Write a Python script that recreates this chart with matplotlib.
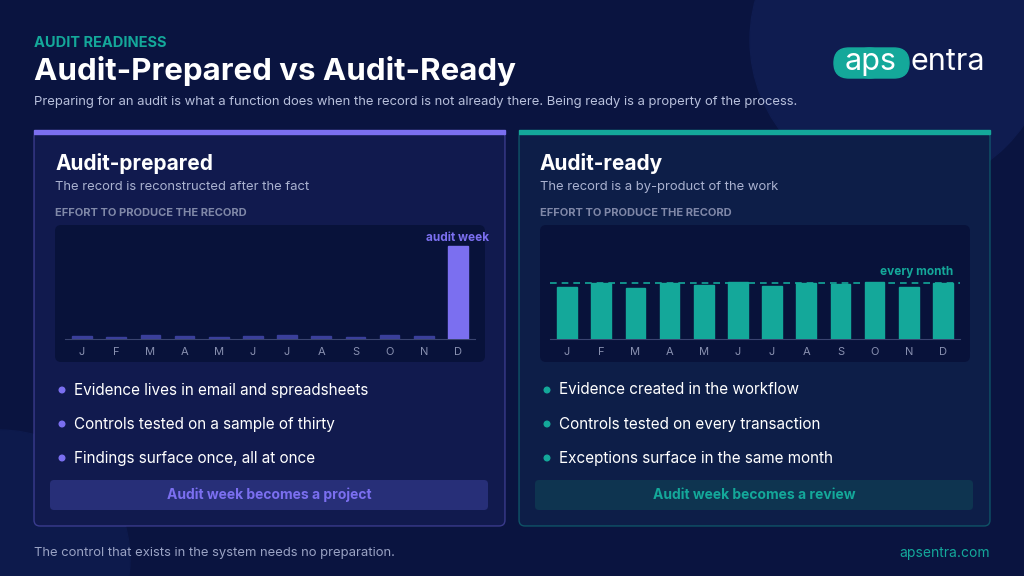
import matplotlib
matplotlib.use("Agg")
import matplotlib.pyplot as plt
from matplotlib.patches import FancyBboxPatch, Circle, Rectangle

months = ["J","F","M","A","M","J","J","A","S","O","N","D"]
prepared = [3, 2, 4, 3, 2, 3, 4, 3, 2, 4, 3, 100]
ready = [56, 60, 55, 60, 58, 61, 57, 60, 59, 61, 56, 60]
ready_target = 60

W, H = 1024, 576
BG = "#0a1440"
PURPLE = "#7b6ff0"
TEAL = "#14a89a"
plt.rcParams['font.family'] = ['Inter', 'DejaVu Sans']
fig = plt.figure(figsize=(W/100, H/100), dpi=100)
fig.patch.set_facecolor(BG)
bg = fig.add_axes([0, 0, 1, 1])
bg.set_xlim(0, W); bg.set_ylim(H, 0); bg.axis("off")
bg.add_patch(Circle((900, 40), 150, color="#0f1c50", zorder=0))
bg.add_patch(Circle((0, 560), 130, color="#0d1a4c", zorder=0))

def T(x, y, s, **kw):
    bg.text(x, y, s, **kw)

T(34, 43, "AUDIT READINESS", color=TEAL, fontsize=10.5, weight="bold", va="center")
T(34, 71, "Audit-Prepared vs Audit-Ready", color="white", fontsize=22.5, weight="bold", va="center")
T(34, 102, "Preparing for an audit is what a function does when the record is not already there. Being ready is a property of the process.",
  color="#b8c0dc", fontsize=9.4, va="center")
# logo
bg.add_patch(FancyBboxPatch((834, 48), 50, 30, boxstyle="round,pad=0,rounding_size=15", color=TEAL, zorder=2))
bg.add_patch(FancyBboxPatch((855, 48), 54, 30, boxstyle="round,pad=0,rounding_size=15", color=TEAL, zorder=2))
T(871, 62, "aps", color="white", fontsize=22, va="center", ha="center", zorder=3)
T(911, 62, "entra", color="white", fontsize=22, va="center", ha="left", zorder=3)

T(34, 553, "The control that exists in the system needs no preparation.", color="#9aa3c4", fontsize=9.4, va="center")
T(990, 553, "apsentra.com", color=TEAL, fontsize=10, va="center", ha="right")

def panel(x0, color, fill, title, sub, vals, bullets, footer, footbg, label, target=None):
    w = 471
    bg.add_patch(FancyBboxPatch((x0, 131), w, 395, boxstyle="round,pad=0,rounding_size=6",
                                facecolor=fill, edgecolor=color+"66", lw=1, zorder=1))
    bg.add_patch(Rectangle((x0, 130), w, 4, color=color, zorder=2))
    T(x0+21, 163, title, color="white", fontsize=15, weight="bold", va="center")
    T(x0+21, 187, sub, color="#aab2d0", fontsize=9.4, va="center")
    T(x0+21, 213, "EFFORT TO PRODUCE THE RECORD", color="#8088a8", fontsize=8, weight="bold", va="center")
    bg.add_patch(FancyBboxPatch((x0+21, 225), 430, 137, boxstyle="round,pad=0,rounding_size=6",
                                facecolor="#08123a", edgecolor="none", zorder=1))
    ax = fig.add_axes([(x0+31)/W, 1-339/H, 410/W, 99/H])
    ax.set_facecolor("none")
    bars = ax.bar(range(12), vals, width=0.58, zorder=3)
    for i, b in enumerate(bars):
        if target is None:
            b.set_color(color if i == 11 else "#3a3f9a")
        else:
            b.set_color(color)
    ax.set_xlim(-0.5, 11.5); ax.set_ylim(0, 106)
    ax.set_xticks(range(12)); ax.set_xticklabels(months)
    ax.tick_params(axis="x", length=0, colors="#8890b0", labelsize=8, pad=6)
    ax.set_yticks([])
    for s in ["top", "right", "left"]:
        ax.spines[s].set_visible(False)
    ax.spines["bottom"].set_color("#3a4470")
    if target is None:
        ax.text(11, 102, label, color=color, fontsize=8.5, weight="bold", ha="center", va="bottom")
    else:
        ax.axhline(target, color=color, ls=(0, (4, 3)), lw=1.2, zorder=4)
        ax.text(11.3, target+5, label, color=color, fontsize=8.5, weight="bold", ha="right", va="bottom")
    for k, b in enumerate(bullets):
        y = 390 + 34*k
        bg.add_patch(Circle((x0+28, y), 2.8, color=color, zorder=3))
        T(x0+40, y, b, color="white", fontsize=11, va="center")
    bg.add_patch(FancyBboxPatch((x0+16, 480), 438, 30, boxstyle="round,pad=0,rounding_size=4",
                                facecolor=footbg, edgecolor="none", zorder=2))
    T(x0+235, 495, footer, color=color, fontsize=10, weight="bold", ha="center", va="center", zorder=3)

panel(34, PURPLE, "#111a4e", "Audit-prepared", "The record is reconstructed after the fact", prepared,
      ["Evidence lives in email and spreadsheets", "Controls tested on a sample of thirty",
       "Findings surface once, all at once"], "Audit week becomes a project", "#272f78", "audit week")
panel(519, TEAL, "#0d1e48", "Audit-ready", "The record is a by-product of the work", ready,
      ["Evidence created in the workflow", "Controls tested on every transaction",
       "Exceptions surface in the same month"], "Audit week becomes a review", "#0e3450", "every month",
      target=ready_target)

fig.savefig("out.png", dpi=100, facecolor=BG)
